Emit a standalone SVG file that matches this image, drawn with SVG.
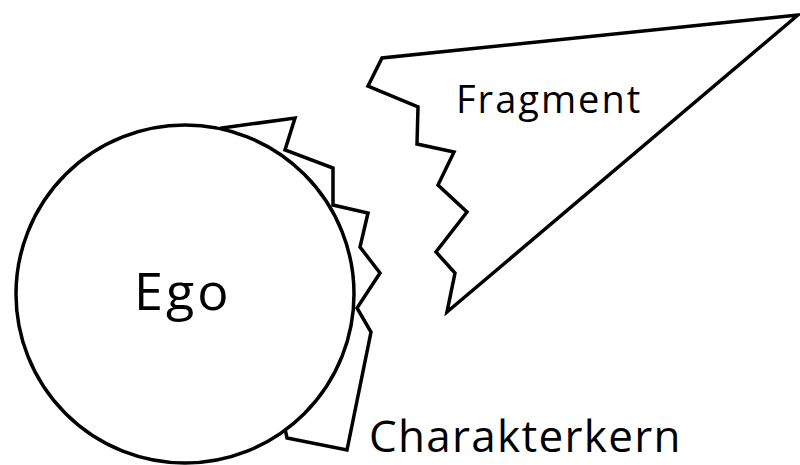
<svg xmlns="http://www.w3.org/2000/svg" width="800" height="465" viewBox="0 0 800 465">
<style>
.s{fill:#fff;stroke:#000;stroke-width:3.5;stroke-linejoin:miter}
.t{font-family:"Open Sans","Noto Sans",sans-serif;fill:#000}
</style>
<rect width="800" height="465" fill="#fff"/>
<g id="charakterkern">
<polygon class="s" points="222,128 295,118 285,150 333,168 333,205 368,213 360,247 380,273 357,308 371,332 347,450 287,438"/>
<text class="t" x="369" y="452" font-size="44" letter-spacing="1.3">Charakterkern</text>
</g>
<g id="ego">
<circle class="s" cx="185" cy="294" r="169"/>
<text class="t" x="134" y="310" font-size="52" letter-spacing="3">Ego</text>
</g>
<g id="fragment">
<polygon class="s" points="798,15 382,58 368,86 418,107 417,144 454,152 438,185 467,212 436,252 455,273 447,312"/>
<text class="t" x="456" y="113" font-size="38" letter-spacing="2">Fragment</text>
</g>
<g id="connectors"/>
</svg>
